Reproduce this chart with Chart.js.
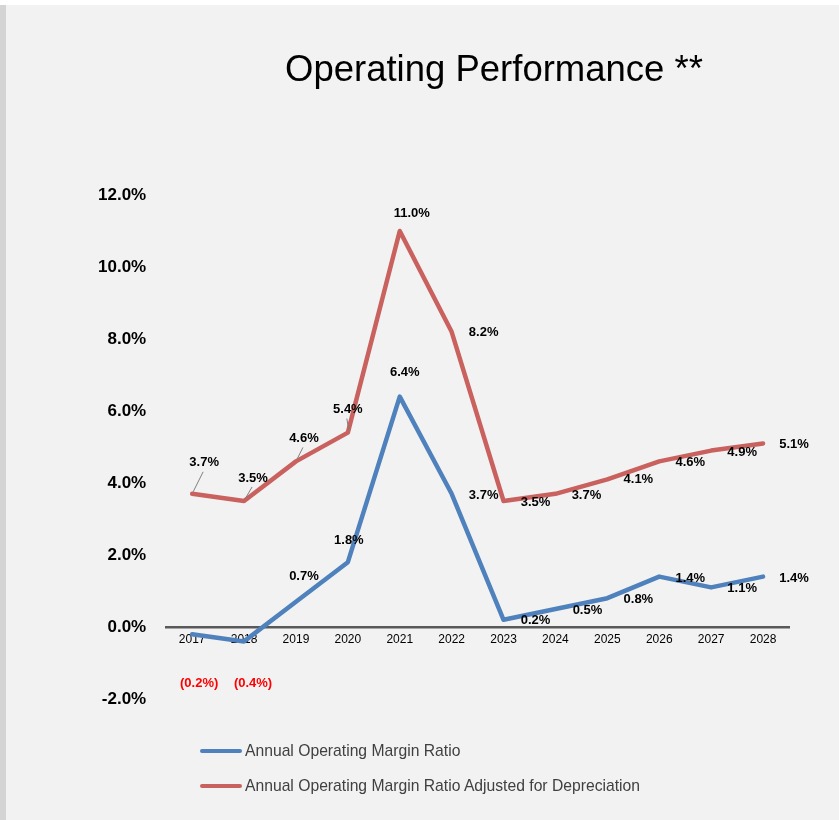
<!DOCTYPE html>
<html>
<head>
<meta charset="utf-8">
<script src="https://cdn.jsdelivr.net/npm/chart.js@4.4.1/dist/chart.umd.min.js"></script>
<style>
  body { margin: 0; background: #fff; }
  #edge { position: absolute; left: 0; top: 5px; width: 6px; height: 815px; background: #d4d4d4; }
  #wrap { position: absolute; left: 6px; top: 5px; width: 833px; height: 815px; background: #f2f2f2; }
  #title { position: absolute; left: 488px; top: 43px; transform: translateX(-50%); white-space: nowrap;
           font-family: "Liberation Sans", Arial, sans-serif; font-size: 36.5px; color: #000; }
  #legend { position: absolute; left: 194px; top: 728px; font-family: "Liberation Sans", Arial, sans-serif;
            font-size: 15.7px; color: #404040; }
  .item { display: flex; align-items: center; height: 35px; }
  .swatch { width: 42px; height: 4px; border-radius: 2px; margin-right: 3px; }
</style>
</head>
<body>
<div id="edge"></div>
<div id="wrap">
  <canvas id="opChart" width="833" height="815"></canvas>
  <div id="title">Operating Performance **</div>
  <div id="legend"></div>
</div>
<script>
// chart values
const years = ['2017', '2018', '2019', '2020', '2021', '2022', '2023', '2024', '2025', '2026', '2027', '2028'];
const marginRatio = [-0.2, -0.4, 0.7, 1.8, 6.4, 3.7, 0.2, 0.5, 0.8, 1.4, 1.1, 1.4];
const adjustedRatio = [3.7, 3.5, 4.6, 5.4, 11.0, 8.2, 3.5, 3.7, 4.1, 4.6, 4.9, 5.1];
const seriesNames = ['Annual Operating Margin Ratio', 'Annual Operating Margin Ratio Adjusted for Depreciation'];
const yTicks = [-2, 0, 2, 4, 6, 8, 10, 12];

// where each data label sits relative to its point (dx, dy in px)
const blueLabelOffsets = [[7, 49], [9, 42], [8, -25], [1, -22], [5, -24], [32, 2], [32, 1], [32, 1], [31, 1], [31, 2], [31, 1], [31, 2]];
const redLabelOffsets = [[12, -31], [9, -23], [8, -23], [0, -23], [12, -18], [32, 1], [32, 1], [31, 2], [31, 0], [31, 1], [31, 2], [31, 1]];
const redLeaders = [true, true, true, true, false, false, false, false, false, false, false, false];

const blue = '#4f81bd';
const red = '#c9625e';

const fmt = (v) => v < 0 ? '(' + Math.abs(v).toFixed(1) + '%)' : v.toFixed(1) + '%';

// draws the value labels next to the points
const valueLabels = {
    id: 'valueLabels',
    afterDatasetsDraw(chart) {
        const ctx = chart.ctx;
        const offsets = [blueLabelOffsets, redLabelOffsets];
        ctx.save();
        ctx.font = 'bold 13px "Liberation Sans", Arial, sans-serif';
        ctx.textAlign = 'center';
        ctx.textBaseline = 'middle';
        chart.data.datasets.forEach((ds, di) => {
            const meta = chart.getDatasetMeta(di);
            meta.data.forEach((pt, i) => {
                const v = ds.data[i];
                const lx = pt.x + offsets[di][i][0];
                const ly = pt.y + offsets[di][i][1];
                if (di === 1 && redLeaders[i]) {
                    ctx.strokeStyle = '#7f7f7f';
                    ctx.lineWidth = 1;
                    ctx.beginPath();
                    ctx.moveTo(pt.x + 1, pt.y - 2);
                    ctx.lineTo(lx - 1, ly + 9);
                    ctx.stroke();
                }
                ctx.fillStyle = v < 0 ? '#ff0000' : '#000';
                ctx.fillText(fmt(v), lx, ly);
            });
        });
        ctx.restore();
    }
};

const ctx = document.getElementById('opChart').getContext('2d');
const chart = new Chart(ctx, {
    type: 'line',
    data: {
        labels: years,
        datasets: [
            {
                label: seriesNames[0],
                data: marginRatio,
                borderColor: blue,
                backgroundColor: blue,
                borderWidth: 4.5,
                pointRadius: 0,
                borderCapStyle: 'round',
                borderJoinStyle: 'round',
                tension: 0,
            },
            {
                label: seriesNames[1],
                data: adjustedRatio,
                borderColor: red,
                backgroundColor: red,
                borderWidth: 4.5,
                pointRadius: 0,
                borderCapStyle: 'round',
                borderJoinStyle: 'round',
                tension: 0,
            },
        ],
    },
    options: {
        responsive: false,
        animation: false,
        layout: { padding: { top: 190, bottom: 121, left: 72, right: 50 } },
        plugins: {
            legend: { display: false },
            tooltip: { enabled: false },
            title: { display: false },
        },
        scales: {
            x: {
                position: { y: 0 },
                offset: true,
                grid: { display: false, drawTicks: false },
                border: { display: true, color: '#595959', width: 2.5 },
                ticks: {
                    color: '#000',
                    padding: 5,
                    maxRotation: 0,
                    font: { family: '"Liberation Sans", Arial, sans-serif', size: 12 },
                },
            },
            y: {
                min: -2,
                max: 12,
                afterBuildTicks: (axis) => { axis.ticks = yTicks.map((v) => ({ value: v })); },
                grid: { display: false, drawTicks: false },
                border: { display: false },
                ticks: {
                    color: '#000',
                    padding: 20,
                    font: { family: '"Liberation Sans", Arial, sans-serif', size: 17, weight: 'bold' },
                    callback: (v) => v.toFixed(1) + '%',
                },
            },
        },
    },
    plugins: [valueLabels],
});

// legend built from the dataset names
const legend = document.getElementById('legend');
chart.data.datasets.forEach((ds) => {
    const item = document.createElement('div');
    item.className = 'item';
    item.innerHTML = '<span class="swatch" style="background:' + ds.borderColor + '"></span>' + ds.label;
    legend.appendChild(item);
});
</script>
</body>
</html>
